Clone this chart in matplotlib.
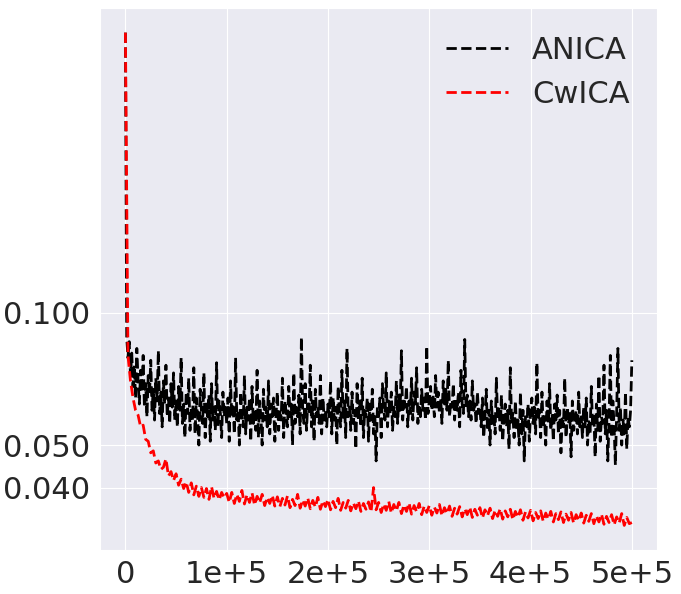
import numpy as np
import matplotlib
matplotlib.use("Agg")
import matplotlib.pyplot as plt
import seaborn as sns
from matplotlib.ticker import FixedLocator, FixedFormatter, NullLocator

sns.set_style("darkgrid")
plt.rcParams['font.family'] = ['DejaVu Sans']

# values in units of 1e-3, evenly spaced over 0 .. 5e5 iterations
anica_milli = [
    435, 88, 79, 86, 72, 81, 68, 76, 64, 83, 70, 62, 74, 66, 80, 61, 69, 58, 72, 65,
    78, 60, 67, 57, 71, 63, 82, 59, 66, 55, 70, 62, 76, 58, 64, 56, 69, 61, 73, 57,
    63, 55, 68, 60, 79, 56, 62, 52, 66, 59, 71, 54, 61, 57, 75, 53, 64, 58, 50, 67,
    60, 56, 73, 52, 62, 58, 65, 51, 69, 57, 61, 54, 77, 55, 63, 59, 52, 66, 58, 61,
    56, 64, 51, 70, 58, 62, 53, 79, 57, 60, 50, 66, 59, 55, 72, 53, 61, 57, 64, 51,
    68, 56, 60, 54, 74, 52, 63, 58, 50, 67, 57, 61, 55, 70, 53, 62, 58, 64, 51, 59,
    66, 54, 60, 57, 71, 52, 63, 59, 55, 68, 58, 62, 50, 73, 56, 61, 58, 65, 53, 88,
    60, 56, 69, 54, 62, 59, 76, 55, 63, 51, 67, 58, 61, 56, 72, 53, 64, 57, 60, 55,
    62, 58, 70, 53, 64, 57, 61, 50, 68, 59, 55, 74, 57, 63, 52, 83, 58, 61, 54, 66,
    56, 60, 49, 69, 57, 63, 55, 71, 52, 60, 58, 64, 51, 62, 57, 67, 53, 59, 46, 61,
    58, 64, 52, 69, 60, 57, 73, 55, 63, 59, 66, 54, 61, 58, 70, 56, 65, 60, 82, 57,
    64, 61, 68, 55, 63, 59, 71, 57, 66, 62, 75, 56, 61, 58, 67, 60, 64, 57, 84, 59,
    63, 68, 60, 65, 58, 72, 61, 66, 59, 64, 56, 70, 62, 67, 60, 78, 58, 63, 61, 69,
    57, 64, 60, 66, 55, 74, 62, 59, 87, 61, 65, 58, 63, 57, 70, 60, 62, 56, 66, 59,
    61, 55, 64, 52, 58, 67, 54, 60, 50, 63, 56, 59, 53, 71, 57, 61, 54, 65, 51, 58,
    62, 55, 60, 49, 75, 56, 59, 52, 63, 54, 57, 50, 66, 53, 60, 46, 58, 55, 62, 51,
    59, 64, 56, 61, 53, 77, 57, 60, 52, 66, 55, 58, 50, 63, 56, 69, 54, 59, 51, 62,
    57, 65, 53, 60, 48, 58, 55, 71, 52, 61, 56, 59, 47, 63, 54, 57, 60, 53, 66, 55,
    58, 52, 61, 55, 64, 50, 57, 53, 68, 55, 59, 47, 62, 54, 72, 51, 58, 56, 76, 53,
    60, 46, 57, 80, 52, 63, 55, 45, 59, 83, 54, 61, 50, 57, 53, 66, 49, 58, 55, 60, 78,
]

cwica_milli = [
    435, 80, 70, 64, 60, 58.5, 55.0, 55.5, 51.5, 51.0, 48.0, 48.5, 45.5, 46.0, 44.0, 44.5, 46.5, 42.5, 43.5, 41.5,
    43.0, 40.5, 41.8, 39.8, 41.2, 39.0, 41.0, 38.5, 40.3, 38.2, 40.0, 38.0, 39.8, 37.6, 40.2, 37.8, 39.2, 37.5, 39.0, 37.9,
    38.8, 37.0, 39.0, 36.8, 38.6, 37.2, 39.4, 36.7, 38.5, 37.0, 38.9, 36.5, 38.2, 36.9, 38.6, 36.4, 38.0, 36.8, 38.4, 36.3,
    38.1, 36.2, 37.8, 36.5, 38.3, 36.0, 37.6, 36.4, 38.6, 35.9, 37.5, 36.3, 37.9, 35.8, 37.4, 36.1, 38.0, 35.7, 37.3, 36.2,
    37.6, 35.6, 37.2, 36.0, 37.8, 35.5, 37.0, 35.9, 37.4, 35.4, 36.9, 35.8, 37.3, 35.3, 36.8, 35.7, 37.1, 35.2, 40.0, 35.6,
    37.0, 35.1, 36.7, 35.5, 37.2, 35.0, 36.6, 35.4, 37.0, 34.9, 36.5, 35.3, 36.9, 34.8, 36.4, 35.2, 36.8, 34.7, 36.3, 35.1,
    36.4, 34.6, 36.1, 35.0, 36.6, 34.5, 36.0, 34.9, 36.3, 34.4, 35.9, 34.8, 36.2, 34.3, 35.8, 34.7, 36.1, 34.2, 35.7, 34.6,
    36.0, 34.1, 35.6, 34.5, 35.9, 34.0, 35.5, 34.4, 35.8, 33.9, 35.4, 34.3, 35.7, 33.8, 35.3, 34.2, 35.6, 33.7, 35.2, 34.1,
    35.5, 33.6, 35.1, 34.0, 35.4, 33.5, 35.0, 33.9, 35.3, 33.4, 34.9, 33.8, 35.2, 33.3, 34.8, 33.7, 35.1, 33.2, 34.7, 33.6,
    35.0, 33.2, 34.6, 33.5, 34.9, 33.1, 34.5, 33.4, 34.8, 33.0, 34.4, 33.3, 34.7, 32.9, 34.3, 33.2, 34.9, 32.8, 34.2, 33.1, 33.3,
]

anica = np.array(anica_milli) / 1000.0
cwica = np.array(cwica_milli) / 1000.0
anica_iter = np.linspace(0, 500000, len(anica))
cwica_iter = np.linspace(0, 500000, len(cwica))

y_ticks = [0.04, 0.05, 0.1]
y_ticklabels = ["0.040", "0.050", "0.100"]
x_ticks = [0, 100000, 200000, 300000, 400000, 500000]
x_ticklabels = ["0", "1e+5", "2e+5", "3e+5", "4e+5", "5e+5"]

fig = plt.figure(figsize=(6.81, 5.94), dpi=100)
ax = fig.add_axes([0.147, 0.074, 0.818, 0.9125])

ax.plot(anica_iter, anica, color='black', ls='--', lw=2, label="ANICA")
ax.plot(cwica_iter, cwica, color='red', ls='--', lw=2, label="CwICA")
ax.set_yscale("log")
ax.yaxis.set_major_locator(FixedLocator(y_ticks))
ax.yaxis.set_major_formatter(FixedFormatter(y_ticklabels))
ax.yaxis.set_minor_locator(NullLocator())
ax.set_xticks(x_ticks)
ax.set_xticklabels(x_ticklabels)
ax.tick_params(labelsize=22)
ax.legend(fontsize=22, frameon=False, loc="upper right",
          borderaxespad=0.5, handlelength=2.0)

fig.savefig("out.png", dpi=100)
